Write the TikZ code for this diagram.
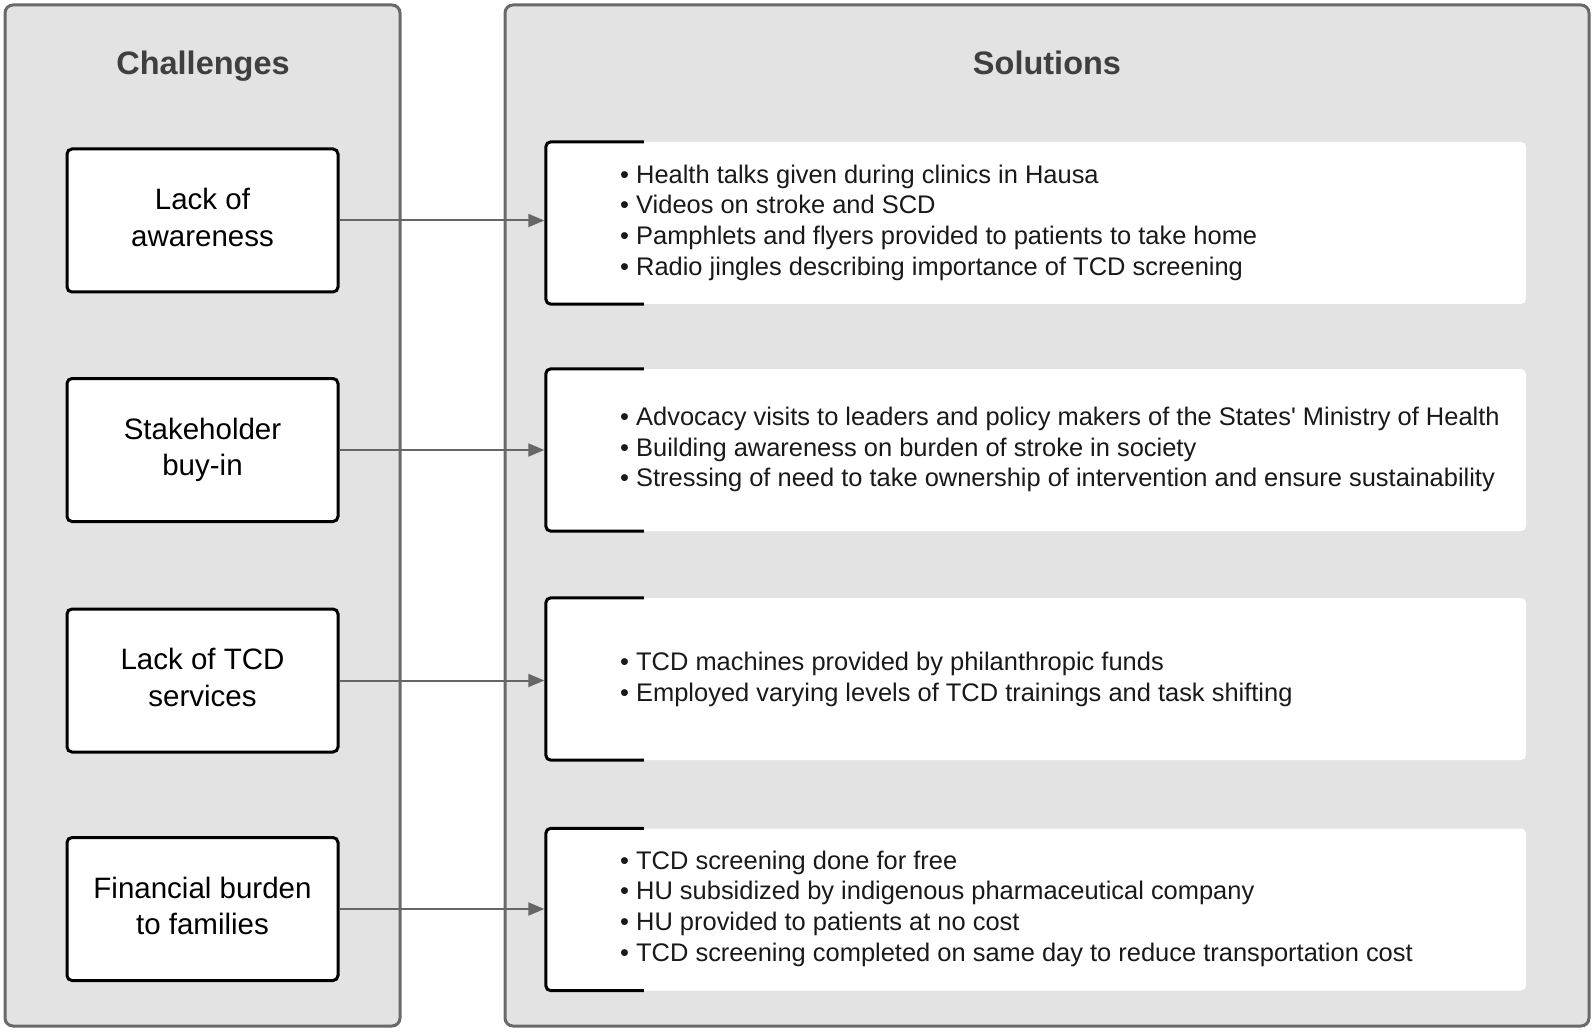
\documentclass[tikz,border=0pt]{standalone}
\usepackage{fontspec}
\setmainfont{Liberation Sans}
\usetikzlibrary{arrows.meta}
\definecolor{panelfill}{HTML}{E3E3E3}
\definecolor{panelline}{HTML}{696969}
\definecolor{titlecol}{HTML}{3F3F3F}
\definecolor{arrowcol}{HTML}{666666}
\begin{document}
\begin{tikzpicture}[x=1pt,y=-1pt,
 panel/.style={draw=panelline, line width=3pt, fill=panelfill, rounded corners=8pt},
 chbox/.style={draw=black, line width=3pt, fill=white, rounded corners=5pt, minimum width=271pt, minimum height=143pt, inner sep=0pt, align=center, font=\fontsize{29.5}{36.5}\selectfont},
 solbox/.style={fill=white, rounded corners=5pt, minimum width=980pt, minimum height=162pt, inner sep=0pt},
 bracket/.style={draw=black, line width=3pt, rounded corners=5pt},
 soltext/.style={anchor=west, align=left, inner sep=0pt, font=\fontsize{25.45}{30.7}\selectfont, text=black!90},
 title/.style={anchor=base, font=\fontsize{32.5}{38}\selectfont\bfseries, text=titlecol},
 conn/.style={draw=arrowcol, line width=2pt, -{Triangle[length=16pt,width=13pt]}, shorten >=1.5pt}
]
\useasboundingbox (0,0) rectangle (1593,1032);
\fill[white] (0,0) rectangle (1593,1032);
\path[panel] (5,5) rectangle (400,1026);
\path[panel] (505,5) rectangle (1589,1026);
\node[title] (tch) at (203,75) {Challenges};
\node[title] (tso) at (1047,75) {Solutions};

\node[chbox] (c1) at (202.5,220.5) {\strut Lack of\\awareness\strut};
\node[chbox] (c2) at (202.5,450) {\strut Stakeholder\\buy-in\strut};
\node[chbox] (c3) at (202.5,680.5) {\strut Lack of TCD\\services\strut};
\node[chbox] (c4) at (202.5,909) {\strut Financial burden\\to families\strut};

\foreach \n/\y in {s1/223, s2/450, s3/679, s4/909.5}{
  \node[solbox] (\n) at (1036,\y) {};
  \draw[bracket] ([xshift=98pt]\n.north west) -- (\n.north west) -- (\n.south west) -- ([xshift=98pt]\n.south west);
}

\node[soltext] (t1) at (620,223) {\strut• Health talks given during clinics in Hausa\\• Videos on stroke and SCD\\• Pamphlets and flyers provided to patients to take home\\• Radio jingles describing importance of TCD screening\strut};
\node[soltext] (t2) at (620,450) {\strut• Advocacy visits to leaders and policy makers of the States\textquotesingle{} Ministry of Health\\• Building awareness on burden of stroke in society\\• Stressing of need to take ownership of intervention and ensure sustainability\strut};
\node[soltext] (t3) at (620,680) {\strut• TCD machines provided by philanthropic funds\\• Employed varying levels of TCD trainings and task shifting\strut};
\node[soltext] (t4) at (620,909) {\strut• TCD screening done for free\\• HU subsidized by indigenous pharmaceutical company\\• HU provided to patients at no cost\\• TCD screening completed on same day to reduce transportation cost\strut};

\draw[conn] (c1.east) -- (c1.east -| s1.west);
\draw[conn] (c2.east) -- (c2.east -| s2.west);
\draw[conn] (c3.east) -- (c3.east -| s3.west);
\draw[conn] (c4.east) -- (c4.east -| s4.west);
\end{tikzpicture}
\end{document}
